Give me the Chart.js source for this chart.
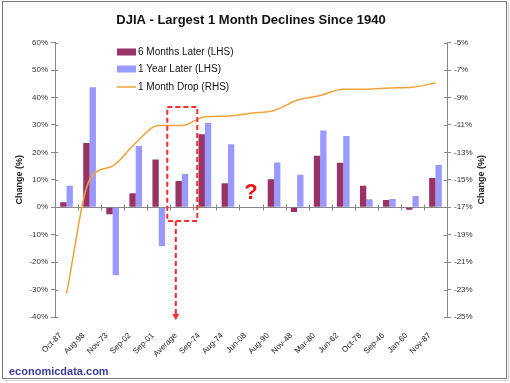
<!DOCTYPE html>
<html>
<head>
<meta charset="utf-8">
<script src="https://cdn.jsdelivr.net/npm/chart.js@4/dist/chart.umd.min.js"></script>
<style>
  html, body { margin: 0; padding: 0; background: #fff; }
  #wrap { width: 510px; height: 383px; position: relative; }
</style>
</head>
<body>
<div id="wrap"><canvas id="chart" width="510" height="383"></canvas></div>
<script>
// Datos
const categories = ['Oct-87', 'Aug-98', 'Nov-73', 'Sep-02', 'Sep-01', 'Average', 'Sep-74', 'Aug-74', 'Jun-08',
  'Aug-90', 'Nov-48', 'Mar-80', 'Jun-62', 'Oct-78', 'Sep-46', 'Jan-60', 'Nov-87'];
const sixMonthsLater = [1.8, 23.4, -2.6, 5.1, 17.4, 9.6, 26.6, 8.7, null, 10.2, -1.7, 18.8, 16.2, 7.8, 2.6, -0.9, 10.7];
const oneYearLater = [7.8, 43.7, -24.8, 22.3, -14.2, 12.1, 30.7, 23.0, null, 16.3, 11.8, 28.0, 26.0, 2.9, 3.0, 4.1, 15.4];
const oneMonthDrop = [-23.3, -15.0, -14.0, -12.3, -11.05, -11.05, -10.4, -10.35, -10.15, -9.95, -9.2, -8.85, -8.4, -8.4, -8.3, -8.25, -7.95];

const leftTicks = { min: -40, max: 60, step: 10 };
const rightTicks = { min: -25, max: -5, step: 2 };

const maroon = '#993366';
const lilac = '#9999FF';
const orange = '#F2A23A';
const axisGray = '#888888';
const FONT = 'Arial, "Liberation Sans", sans-serif';

// Línea del cero con marcas entre categorías, y marcas internas de los ejes Y
const zeroLine = {
  id: 'zeroLine',
  beforeDatasetsDraw(chart) {
    const { ctx, scales: { x, y, y2 } } = chart;
    const y0 = Math.round(y.getPixelForValue(0)) + 0.5;
    ctx.save();
    ctx.strokeStyle = axisGray;
    ctx.lineWidth = 1;
    ctx.beginPath();
    ctx.moveTo(x.left, y0);
    ctx.lineTo(x.right, y0);
    for (let i = 0; i <= categories.length; i++) {
      const px = Math.round(x.getPixelForValue(i - 0.5)) + 0.5;
      ctx.moveTo(px, y0 - 3);
      ctx.lineTo(px, y0 + 3);
    }
    y.ticks.forEach(t => {
      const py = Math.round(y.getPixelForValue(t.value)) + 0.5;
      ctx.moveTo(x.left, py);
      ctx.lineTo(x.left + 3, py);
    });
    y2.ticks.forEach(t => {
      const py = Math.round(y2.getPixelForValue(t.value)) + 0.5;
      ctx.moveTo(x.right, py);
      ctx.lineTo(x.right - 3, py);
    });
    ctx.stroke();
    ctx.restore();
  }
};

// Leyenda, anotaciones, pie y marco
const extras = {
  id: 'extras',
  afterDraw(chart) {
    const { ctx, scales: { x, y } } = chart;
    ctx.save();

    // leyenda dentro del área
    const lx = x.left + 62, rows = [52, 69, 87];
    ctx.font = '10px ' + FONT;
    ctx.textBaseline = 'middle';
    ctx.fillStyle = maroon;
    ctx.fillRect(lx, rows[0] - 3.5, 19, 7);
    ctx.fillStyle = lilac;
    ctx.fillRect(lx, rows[1] - 3.5, 19, 7);
    ctx.strokeStyle = orange;
    ctx.lineWidth = 1.5;
    ctx.beginPath();
    ctx.moveTo(lx, rows[2]);
    ctx.lineTo(lx + 19, rows[2]);
    ctx.stroke();
    ctx.fillStyle = '#111';
    ctx.fillText('6 Months Later (LHS)', lx + 21, rows[0]);
    ctx.fillText('1 Year Later (LHS)', lx + 21, rows[1]);
    ctx.fillText('1 Month Drop (RHS)', lx + 21, rows[2]);

    // título del eje derecho, leído de abajo hacia arriba
    ctx.save();
    ctx.translate(482, (y.top + y.bottom) / 2);
    ctx.rotate(-Math.PI / 2);
    ctx.textAlign = 'center';
    ctx.font = 'bold 9px ' + FONT;
    ctx.fillStyle = '#222';
    ctx.fillText('Change (%)', 0, 0);
    ctx.restore();

    // recuadro punteado alrededor de "Average"
    const avg = categories.indexOf('Average');
    const cx = x.getPixelForValue(avg);
    const cw = x.width / categories.length;
    const top = y.getPixelForValue(36.5), bot = y.getPixelForValue(-5);
    ctx.strokeStyle = '#ff2a2a';
    ctx.lineWidth = 2;
    ctx.setLineDash([5, 3]);
    ctx.strokeRect(cx - cw * 0.63, top, cw * 1.3, bot - top);
    // flecha hacia la etiqueta
    const ax = cx - 6;
    ctx.beginPath();
    ctx.moveTo(ax, bot);
    ctx.lineTo(ax, y.bottom - 2);
    ctx.stroke();
    ctx.setLineDash([]);
    ctx.fillStyle = '#ff2a2a';
    ctx.beginPath();
    ctx.moveTo(ax - 3.5, y.bottom - 3);
    ctx.lineTo(ax + 3.5, y.bottom - 3);
    ctx.lineTo(ax, y.bottom + 3);
    ctx.closePath();
    ctx.fill();

    // signo de interrogación sobre Jun-08
    ctx.font = 'bold 22px ' + FONT;
    ctx.textAlign = 'center';
    ctx.fillStyle = '#ee1111';
    ctx.fillText('?', x.getPixelForValue(categories.indexOf('Jun-08')), y.getPixelForValue(5.2));

    // pie
    ctx.textAlign = 'left';
    ctx.font = 'bold 11px ' + FONT;
    ctx.fillStyle = '#3b3b9e';
    ctx.fillText('economicdata.com', 9, 372);

    // marco
    ctx.strokeStyle = '#777';
    ctx.lineWidth = 1;
    ctx.strokeRect(2.5, 1.5, 504, 377);
    ctx.strokeStyle = '#cfcfcf';
    ctx.beginPath();
    ctx.moveTo(508.5, 3);
    ctx.lineTo(508.5, 380.5);
    ctx.lineTo(4, 380.5);
    ctx.stroke();
    ctx.restore();
  }
};

new Chart(document.getElementById('chart'), {
  data: {
    labels: categories,
    datasets: [
      {
        type: 'line',
        label: '1 Month Drop (RHS)',
        data: oneMonthDrop,
        yAxisID: 'y2',
        borderColor: orange,
        borderWidth: 1.5,
        pointRadius: 0,
        cubicInterpolationMode: 'monotone',
        order: 0
      },
      {
        type: 'bar',
        label: '6 Months Later (LHS)',
        data: sixMonthsLater,
        yAxisID: 'y',
        backgroundColor: maroon,
        categoryPercentage: 0.55,
        barPercentage: 1,
        order: 1
      },
      {
        type: 'bar',
        label: '1 Year Later (LHS)',
        data: oneYearLater,
        yAxisID: 'y',
        backgroundColor: lilac,
        categoryPercentage: 0.55,
        barPercentage: 1,
        order: 1
      }
    ]
  },
  options: {
    responsive: false,
    animation: false,
    layout: { padding: { left: 14, right: 22, top: 0, bottom: 0 } },
    plugins: {
      legend: { display: false },
      tooltip: { enabled: false },
      title: {
        display: true,
        text: 'DJIA - Largest 1 Month Declines Since 1940',
        color: '#111',
        font: { family: FONT, size: 13, weight: 'bold' },
        padding: { top: 13, bottom: 14 }
      }
    },
    scales: {
      x: {
        offset: true,
        grid: { display: false },
        border: { display: false },
        afterFit(s) { s.height = 66; },
        ticks: {
          autoSkip: false,
          minRotation: 45,
          maxRotation: 45,
          padding: 6,
          labelOffset: -6,
          color: '#222',
          font: { family: FONT, size: 8 }
        }
      },
      y: {
        position: 'left',
        min: leftTicks.min,
        max: leftTicks.max,
        afterFit(s) { s.width = 41; },
        grid: { drawOnChartArea: false, color: axisGray, tickLength: 4 },
        border: { color: axisGray },
        title: { display: true, text: 'Change (%)', color: '#222', font: { family: FONT, size: 9, weight: 'bold' }, padding: 0 },
        ticks: {
          stepSize: leftTicks.step,
          padding: 3,
          color: '#333',
          font: { family: FONT, size: 8 },
          callback: v => v + '%'
        }
      },
      y2: {
        position: 'right',
        min: rightTicks.min,
        max: rightTicks.max,
        afterFit(s) { s.width = 41; },
        grid: { drawOnChartArea: false, color: axisGray, tickLength: 4 },
        border: { color: axisGray },
        ticks: {
          stepSize: rightTicks.step,
          padding: 3,
          color: '#333',
          font: { family: FONT, size: 8 },
          callback: v => v + '%'
        }
      }
    }
  },
  plugins: [zeroLine, extras]
});
</script>
</body>
</html>
